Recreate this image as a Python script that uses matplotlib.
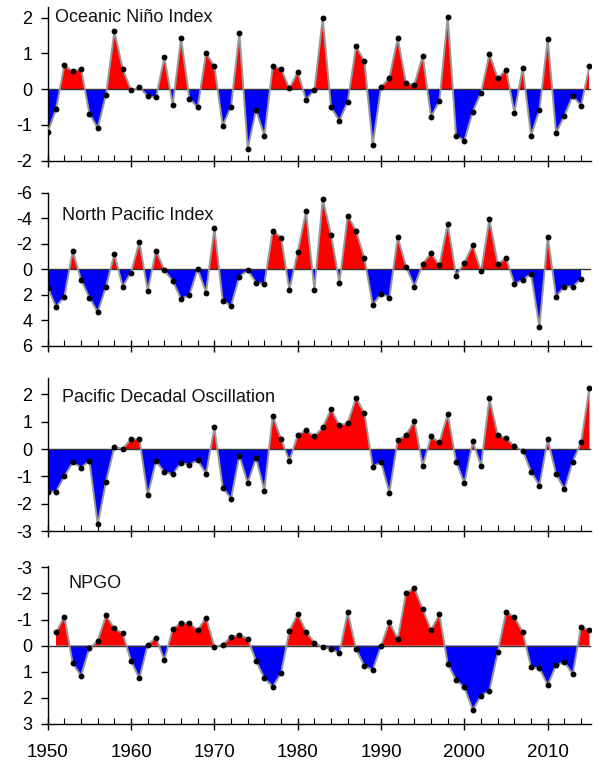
import numpy as np
import matplotlib
matplotlib.use("Agg")
import matplotlib.pyplot as plt
from matplotlib.ticker import MultipleLocator

plt.rcParams['font.family'] = ['Liberation Sans', 'DejaVu Sans']

# ---------------- data ----------------
oni_years = list(range(1950, 2016))
oni = [-1.21, -0.56, 0.67, 0.50, 0.57, -0.68, -1.09, -0.15, 1.62, 0.57,
       -0.03, 0.05, -0.19, -0.23, 0.90, -0.45, 1.43, -0.26, -0.51, 1.01,
       0.64, -1.02, -0.49, 1.58, -1.67, -0.58, -1.30, 0.64, 0.57, 0.02,
       0.48, -0.29, -0.03, 1.99, -0.51, -0.88, -0.35, 1.20, 0.78, -1.56,
       0.06, 0.32, 1.43, 0.16, 0.13, 0.94, -0.77, -0.33, 2.03, -1.30,
       -1.44, -0.63, -0.10, 0.99, 0.30, 0.55, -0.66, 0.60, -1.30, -0.58,
       1.41, -1.23, -0.74, -0.19, -0.46, 0.64]

npi_years = list(range(1950, 2015))
npi = [1.44, 2.95, 2.17, -1.44, 0.84, 2.22, 3.37, 1.36, -1.18, 1.36,
       0.26, -2.14, 1.70, -1.46, 0.10, 0.92, 2.33, 2.04, 0.00, 1.83,
       -3.22, 2.48, 2.88, 0.58, 0.10, 1.05, 1.15, -3.03, -2.48, 1.62,
       -1.33, -4.55, 1.62, -5.52, -2.69, 1.05, -4.18, -3.01, -0.86, 2.80,
       1.93, 2.22, -2.51, -0.21, 1.36, -0.42, -1.25, -0.31, -3.56, 0.52,
       -0.52, -1.88, 0.18, -3.92, -0.42, -0.86, 1.15, 0.84, 0.37, 4.55,
       -2.56, 2.17, 1.36, 1.36, 0.78]

pdo_years = list(range(1950, 2016))
pdo = [-1.56, -1.56, -1.00, -0.49, -0.68, -0.44, -2.76, -1.19, 0.07, 0.01,
       0.36, 0.36, -1.70, -0.44, -0.85, -0.92, -0.51, -0.58, -0.41, -0.91,
       0.79, -1.41, -1.82, -0.24, -1.25, -0.33, -1.52, 1.22, 0.36, -0.43,
       0.51, 0.69, 0.46, 0.79, 1.46, 0.87, 0.95, 1.88, 1.31, -0.64,
       -0.49, -1.60, 0.33, 0.51, 1.03, -0.61, 0.46, 0.24, 1.28, -0.46,
       -1.25, 0.28, -0.61, 1.85, 0.51, 0.40, 0.10, -0.06, -0.83, -1.34,
       0.36, -0.91, -1.48, -0.46, 0.24, 2.25]

npgo_years = list(range(1951, 2016))
npgo = [-0.51, -1.11, 0.68, 1.15, 0.10, -0.18, -1.16, -0.66, -0.47, 0.59,
        1.25, -0.03, -0.31, 0.55, -0.64, -0.88, -0.86, -0.60, -1.07, 0.04,
        -0.03, -0.34, -0.41, -0.27, 0.59, 1.25, 1.57, 1.06, -0.57, -1.20,
        -0.54, -0.11, 0.06, 0.13, 0.29, -1.28, 0.13, 0.78, 0.93, 0.01,
        -0.91, -0.26, -2.01, -2.20, -1.39, -0.60, -1.20, 0.70, 1.32, 1.60,
        2.46, 1.92, 1.72, 0.26, -1.28, -1.11, -0.51, 0.83, 0.87, 1.51,
        0.75, 0.63, 1.09, -0.73, -0.59]

titles = ["Oceanic Niño Index", "North Pacific Index",
          "Pacific Decadal Oscillation", "NPGO"]
year_ticks = [1950, 1960, 1970, 1980, 1990, 2000, 2010]

# ---------------- layout ----------------
W, H = 598, 762
fig = plt.figure(figsize=(W / 100, H / 100), dpi=100)

def rect(top_px, bot_px, left_px=47.7, right_px=591.5):
    return [left_px / W, 1 - bot_px / H, (right_px - left_px) / W,
            (bot_px - top_px) / H]

panels = [
    dict(x=oni_years, y=oni, rect=rect(7, 160.7), ylim=(-2, 2.3),
         yticks=[-2, -1, 0, 1, 2], inv=False, title_xy=(55, 17)),
    dict(x=npi_years, y=npi, rect=rect(192.7, 345.7), ylim=(6, -6),
         yticks=[-6, -4, -2, 0, 2, 4, 6], inv=True, title_xy=(61.7, 215)),
    dict(x=pdo_years, y=pdo, rect=rect(378, 531), ylim=(-3, 2.6),
         yticks=[-3, -2, -1, 0, 1, 2], inv=False, title_xy=(61.7, 398)),
    dict(x=npgo_years, y=npgo, rect=rect(566, 724), ylim=(3, -3.05),
         yticks=[-3, -2, -1, 0, 1, 2, 3], inv=True, title_xy=(68, 584)),
]

for i, p in enumerate(panels):
    ax = fig.add_axes(p["rect"])
    x = np.array(p["x"], dtype=float)
    y = np.array(p["y"], dtype=float)
    if p["inv"]:
        red_mask, blue_mask = y <= 0, y >= 0
    else:
        red_mask, blue_mask = y >= 0, y <= 0
    ax.fill_between(x, 0, y, where=red_mask, interpolate=True,
                    color='#ff0000', linewidth=0, zorder=1)
    ax.fill_between(x, 0, y, where=blue_mask, interpolate=True,
                    color='#0000ff', linewidth=0, zorder=1)
    ax.axhline(0, color='#333333', lw=1.0, zorder=2)
    ax.plot(x, y, color='#999999', lw=1.4, zorder=3)
    ax.plot(x, y, 'o', color='black', ms=3.2, zorder=4)

    ax.set_xlim(1950, 2015.25)
    ax.set_ylim(*p["ylim"])
    ax.set_yticks(p["yticks"])
    ax.set_yticklabels([str(t) for t in p["yticks"]], fontsize=13)
    ax.set_xticks(year_ticks)
    ax.xaxis.set_minor_locator(MultipleLocator(2))
    if i == 3:
        ax.set_xticklabels([str(t) for t in year_ticks], fontsize=13.5)
    else:
        ax.set_xticklabels([])
    ax.tick_params(axis='x', which='major', direction='inout', length=9,
                   width=1, pad=10)
    ax.tick_params(axis='x', which='minor', direction='in', length=4,
                   width=0.8)
    ax.tick_params(axis='y', which='major', direction='out', length=5,
                   width=1, pad=6)
    for s in ['top', 'right']:
        ax.spines[s].set_visible(False)
    for s in ['left', 'bottom']:
        ax.spines[s].set_linewidth(1.0)
        ax.spines[s].set_color('black')
    ax.patch.set_alpha(0)

    tx, ty = p["title_xy"]
    fig.text(tx / W, 1 - ty / H, titles[i], fontsize=13, ha='left',
             va='center', color='#111111')

fig.savefig("out.png", dpi=100)
